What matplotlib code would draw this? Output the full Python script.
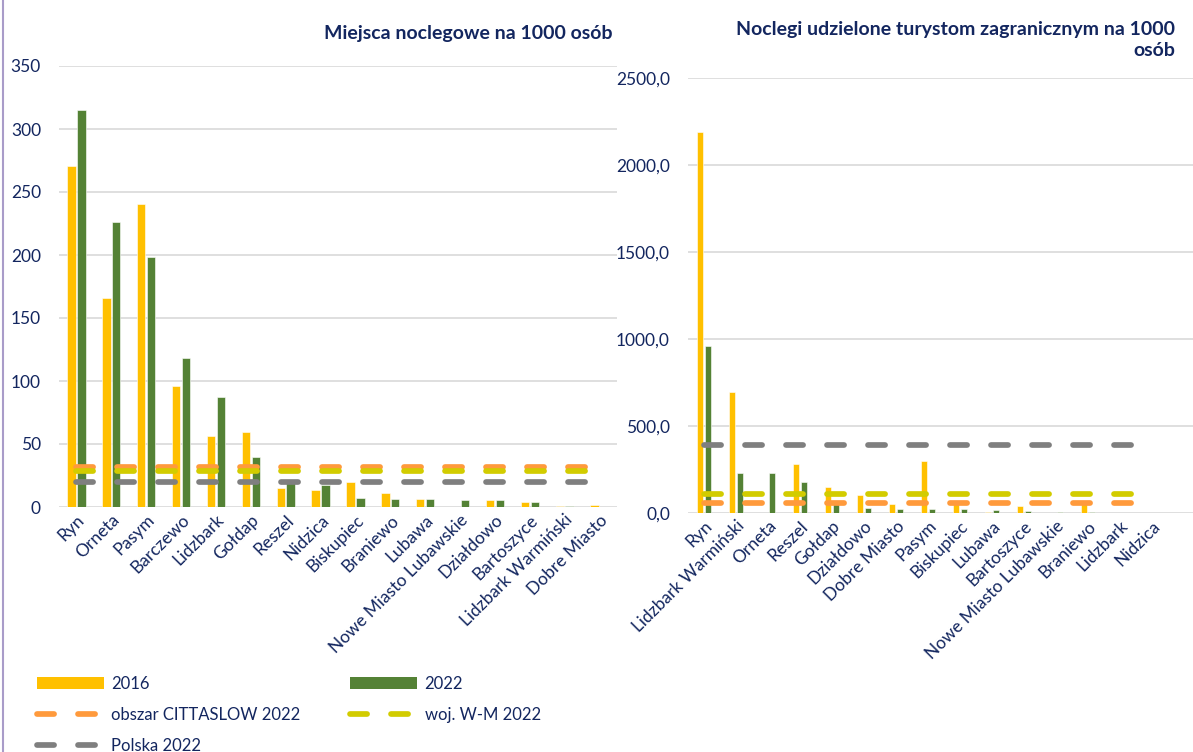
import matplotlib
matplotlib.use('Agg')
import matplotlib.pyplot as plt
import matplotlib.transforms as mtransforms
from matplotlib.patches import Patch
from matplotlib.lines import Line2D
from matplotlib.ticker import FuncFormatter

plt.rcParams['font.family'] = ['Lato', 'DejaVu Sans']

# --- left chart: accommodation places per 1000 people
left_towns = ['Ryn', 'Orneta', 'Pasym', 'Barczewo', 'Lidzbark', 'Gołdap', 'Reszel',
              'Nidzica', 'Biskupiec', 'Braniewo', 'Lubawa', 'Nowe Miasto Lubawskie',
              'Działdowo', 'Bartoszyce', 'Lidzbark Warmiński', 'Dobre Miasto']
left_2016 = [271, 166, 240.5, 96, 56.5, 59.5, 15.3, 13.7, 20, 11.3, 6.4, 0, 5.4, 3.8, 0.5, 1.6]
left_2022 = [315, 226, 198.5, 118, 87, 39.7, 20, 17.2, 7.2, 6.7, 6.2, 5.6, 5.4, 4.0, 1.0, 0]
left_cittaslow = 31.9
left_woj = 28.7
left_polska = 20.2

# --- right chart: nights spent by foreign tourists per 1000 people
right_towns = ['Ryn', 'Lidzbark Warmiński', 'Orneta', 'Reszel', 'Gołdap', 'Działdowo',
               'Dobre Miasto', 'Pasym', 'Biskupiec', 'Lubawa', 'Bartoszyce',
               'Nowe Miasto Lubawskie', 'Braniewo', 'Lidzbark', 'Nidzica']
right_2016 = [2187, 693, 0, 281, 148, 105, 50, 297, 70, 3, 40, 0, 52, 2, 0]
right_2022 = [957, 230, 228, 176, 55, 28, 22, 22, 21, 17, 13, 6, 5, 0, 0]
right_cittaslow = 59
right_woj = 108
right_polska = 388

YELLOW = '#FFC000'
GREEN = '#548235'
ORANGE = '#FF9A3C'
OLIVE = '#D2CC00'
GRAY = '#7F7F7F'
NAVY = '#13265F'
GRID = '#D9D9D9'

LW = 4.1
DASH = (3.0, 4.2)
TICK_FS = 12.5

W, H = 1193, 752
fig = plt.figure(figsize=(W / 100, H / 100), dpi=100)


def style_axis(ax, pad):
    for s in ax.spines.values():
        s.set_visible(False)
    ax.yaxis.grid(True, color=GRID, linewidth=1.2)
    ax.set_axisbelow(True)
    ax.tick_params(length=0, labelsize=TICK_FS, labelcolor=NAVY)
    ax.tick_params(axis='y', pad=pad)


def draw(ax, towns, v16, v22, refs, bw, off):
    x = list(range(len(towns)))
    ax.bar([i - off for i in x], v16, width=bw, color=YELLOW, edgecolor='white',
           linewidth=0.4, zorder=2)
    ax.bar([i + off for i in x], v22, width=bw, color=GREEN, edgecolor='white',
           linewidth=0.4, zorder=2)
    for val, col, z in refs:
        ax.plot(x, [val] * len(x), color=col, linewidth=LW, dashes=DASH,
                dash_capstyle='round', zorder=z)
    ax.set_xticks(x)
    ax.set_xticklabels(towns, rotation=45, ha='right', va='top', rotation_mode='anchor')
    shift = mtransforms.ScaledTranslation(6 / 100, -5 / 100, fig.dpi_scale_trans)
    for lab in ax.get_xticklabels():
        lab.set_transform(lab.get_transform() + shift)


# left panel
axl = fig.add_axes([59 / W, 1 - 507 / H, (617 - 59) / W, (507 - 66) / H])
draw(axl, left_towns, left_2016, left_2022,
     [(left_cittaslow, ORANGE, 3), (left_woj, OLIVE, 4), (left_polska, GRAY, 5)],
     0.24, 0.14)
axl.set_xlim(-0.5, len(left_towns) - 0.5)
axl.set_ylim(0, 350)
axl.set_yticks(range(0, 351, 50))
style_axis(axl, 13)

# right panel
axr = fig.add_axes([688 / W, 1 - 513 / H, (W - 688) / W, (513 - 78) / H])
draw(axr, right_towns, right_2016, right_2022,
     [(right_cittaslow, ORANGE, 3), (right_woj, OLIVE, 4), (right_polska, GRAY, 5)],
     0.21, 0.125)
axr.set_xlim(-0.5, 15.28)
axr.set_ylim(0, 2500)
axr.set_yticks(range(0, 2501, 500))
axr.yaxis.set_major_formatter(FuncFormatter(lambda v, p: f'{v:.1f}'.replace('.', ',')))
style_axis(axr, 13)

# titles
fig.text(612 / W, 1 - 33 / H, 'Miejsca noclegowe na 1000 osób', ha='right', va='center',
         fontsize=14, fontweight='bold', color=NAVY)
fig.text(1175 / W, 1 - 40 / H, 'Noclegi udzielone turystom zagranicznym na 1000\nosób',
         ha='right', va='center', fontsize=14, fontweight='bold', color=NAVY,
         multialignment='right', linespacing=1.35)

# legend
handles = [
    Patch(facecolor=YELLOW, edgecolor='none', label='2016'),
    Line2D([], [], color=ORANGE, linewidth=LW, dashes=DASH, dash_capstyle='round',
           label='obszar CITTASLOW 2022'),
    Line2D([], [], color=GRAY, linewidth=LW, dashes=DASH, dash_capstyle='round',
           label='Polska 2022'),
    Patch(facecolor=GREEN, edgecolor='none', label='2022'),
    Line2D([], [], color=OLIVE, linewidth=LW, dashes=DASH, dash_capstyle='round',
           label='woj. W-M 2022'),
]
leg = fig.legend(handles=handles, ncol=2, loc='upper left',
                 bbox_to_anchor=(37 / W, 1 - 676 / H), frameon=False, fontsize=12,
                 handlelength=4.0, handletextpad=0.45, labelspacing=0.9,
                 columnspacing=3.0, borderpad=0, borderaxespad=0)
for t in leg.get_texts():
    t.set_color(NAVY)

# left border of the text box
fig.add_artist(Line2D([3 / W, 3 / W], [0, 1], color='#A99CC9', linewidth=1.5))

fig.savefig('out.png', dpi=100)
